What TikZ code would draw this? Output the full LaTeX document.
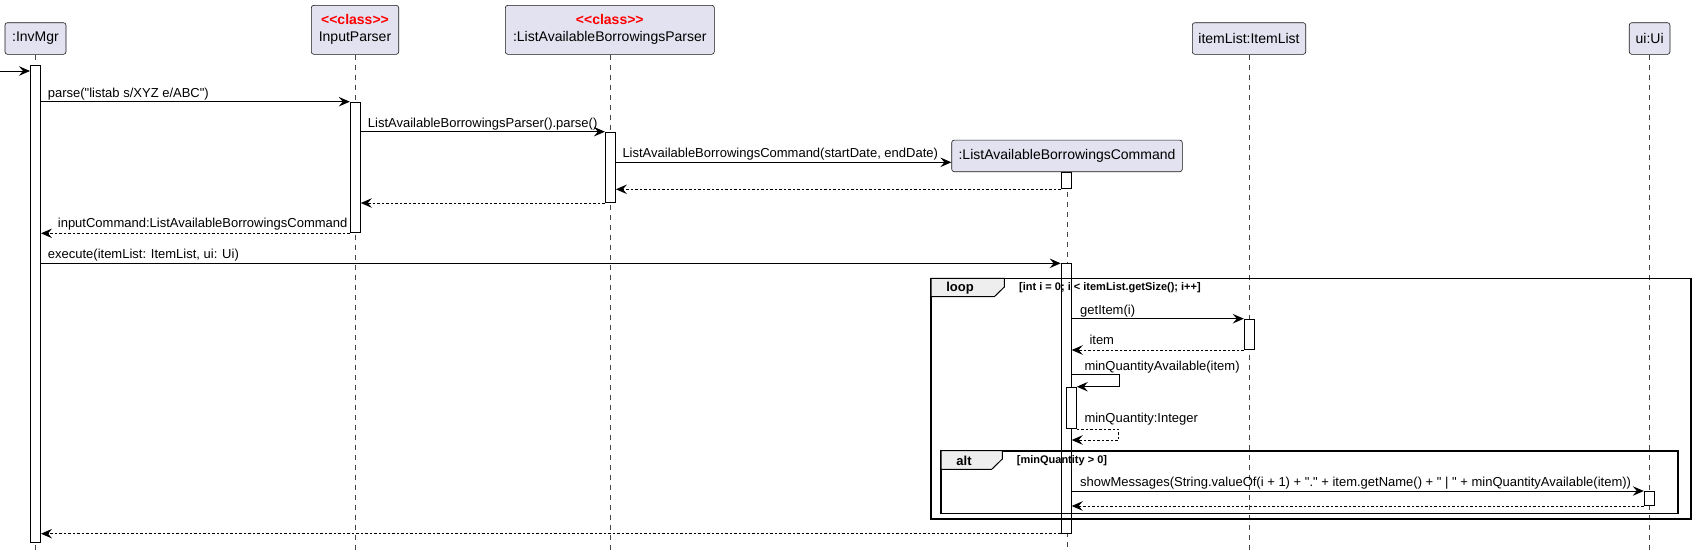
\documentclass[tikz,border=0pt]{standalone}
\usepackage{fontspec}
\setmainfont{Liberation Sans}[Ligatures=TeXOff]
\usetikzlibrary{arrows.meta}
\definecolor{partfill}{HTML}{E2E2F0}
\definecolor{partline}{HTML}{181818}
\definecolor{tabfill}{HTML}{EEEEEE}
\tikzset{
   part/.style={draw=partline, fill=partfill, rounded corners=2.5pt, line width=0.6pt, inner sep=0pt, align=center, font=\fontsize{14}{17}\selectfont},
   act/.style={draw, fill=white, line width=1pt, minimum width=10pt, inner sep=0pt, anchor=north},
   life/.style={draw=partline!80, line width=0.6pt, dash pattern=on 5pt off 5pt},
   msg/.style={-{Stealth[length=11pt,width=9.5pt,inset=4pt]}, line width=1pt},
   ret/.style={msg, dash pattern=on 2.5pt off 2pt},
   lbl/.style={anchor=base west, inner sep=0pt, font=\fontsize{13}{15}\selectfont},
   frm/.style={line width=1.6pt},
   tab/.style={draw, fill=tabfill, line width=1pt},
   tabtxt/.style={inner sep=0pt, font=\fontsize{13}{15}\selectfont\bfseries},
   guard/.style={anchor=west, inner sep=0pt, font=\fontsize{11}{13}\selectfont\bfseries},
}
\newcommand{\stereo}{{\bfseries\color{red}<\kern0pt<class>\kern0pt>}}
\begin{document}
\begin{tikzpicture}[x=1pt,y=-1pt]
   \useasboundingbox (0,0) rectangle (1695,557);

   \node[part, minimum width=61pt, minimum height=31.6pt] (invmgr) at (35.5,38.5) {:InvMgr};
   \node[part, minimum width=87.4pt, minimum height=49pt] (inparser) at (355,29.8) {\stereo\\InputParser};
   \node[part, minimum width=209pt, minimum height=49pt] (labparser) at (609.8,29.8) {\stereo\\:ListAvailableBorrowingsParser};
   \node[part, minimum width=230.6pt, minimum height=31.6pt] (labcmd) at (1067,155.9) {:ListAvailableBorrowingsCommand};
   \node[part, minimum width=113.4pt, minimum height=31.6pt] (itemlist) at (1249,38.5) {itemList:ItemList};
   \node[part, minimum width=40.7pt, minimum height=31.6pt] (ui) at (1649.6,38.5) {ui:Ui};

   % lifelines
   \foreach \p in {invmgr,inparser,labparser,labcmd,itemlist,ui}
      \draw[life] (\p.south) -- (\p.south |- 0,550);

   % activations
   \node[act, minimum height=477pt] (a0) at (35.5,65.3) {};
   \node[act, minimum height=130.6pt] (a1) at (355.3,101.7) {};
   \node[act, minimum height=70.3pt] (a2) at (610.4,131.7) {};
   \node[act, minimum height=16.6pt] (a3) at (1066.2,171.7) {};
   \node[act, minimum height=269.4pt] (a4) at (1066.2,263.3) {};
   \node[act, minimum height=30.3pt] (a5) at (1249.3,318.7) {};
   \node[act, minimum height=41.6pt] (a6) at (1071.3,386.7) {};
   \node[act, minimum height=14pt] (a7) at (1649.3,491) {};

   % messages
   \coordinate (entry) at (0,71);
   \draw[msg] (entry) -- (a0.west |- entry);

   \draw[msg] (a0.east |- a1.north) -- (a1.north west);
   \node[lbl] (m1) at (47.7,97.2) {parse("listab s/XYZ e/ABC")};

   \draw[msg] (a1.east |- a2.north) -- (a2.north west);
   \node[lbl] (m2) at (367.7,127.2) {ListAvailableBorrowingsParser().parse()};

   \coordinate (create) at (a2.east |- 0,162.3);
   \draw[msg] (create) -- (labcmd.west |- create);
   \node[lbl] (m3) at (622.3,157.8) {ListAvailableBorrowingsCommand(startDate, endDate)};

   \draw[ret] (a3.south west) -- (a2.east |- a3.south);
   \draw[ret] (a2.south west) -- (a1.east |- a2.south);

   \draw[ret] (a1.south west) -- (a0.east |- a1.south);
   \node[lbl] (m4) at (57.7,227.2) {inputCommand:ListAvailableBorrowingsCommand};

   \draw[msg] (a0.east |- a4.north) -- (a4.north west);
   \node[lbl] (m5) at (47.7,258.8) {execute(itemList: ItemList, ui: Ui)};

   \draw[msg] (a4.east |- a5.north) -- (a5.north west);
   \node[lbl] (m6) at (1080,314.2) {getItem(i)};

   \draw[ret] (a5.south west) -- (a4.east |- a5.south);
   \node[lbl] (m7) at (1089.3,344.5) {item};

   \draw[msg] (a4.east |- 0,374.7) -- ++(47.3,0) |- (a6.north east);
   \node[lbl] (m8) at (1084.3,370.3) {minQuantityAvailable(item)};

   \draw[ret] (a6.south east) -- ++(42,0) |- (a4.east |- 0,440);
   \node[lbl] (m9) at (1084.3,422.6) {minQuantity:Integer};

   \draw[msg] (a4.east |- a7.north) -- (a7.north west);
   \node[lbl] (m10) at (1080,486.3) {showMessages(String.valueOf(i + 1) + "." + item.getName() + " | " + minQuantityAvailable(item))};

   \draw[ret] (a7.south west) -- (a4.east |- a7.south);
   \draw[ret] (a4.south west) -- (a0.east |- a4.south);

   % loop frame
   \draw[frm] (931,278.3) rectangle (1690.7,519);
   \draw[tab] (931,278.3) -- (1004.3,278.3) -- (1004.3,287) -- (994.3,296.7) -- (931,296.7) -- cycle;
   \node[tabtxt] (looptxt) at (960,288) {loop};
   \node[guard] (loopguard) at (1019,288) {[int i = 0; i < itemList.getSize(); i++]};

   % alt frame
   \draw[frm] (941,450.7) rectangle (1678,513.3);
   \draw[tab] (941,450.7) -- (1002.3,450.7) -- (1002.3,459) -- (991.7,469.3) -- (941,469.3) -- cycle;
   \node[tabtxt] (alttxt) at (964,460.5) {alt};
   \node[guard] (altguard) at (1016.7,460.5) {[minQuantity > 0]};

\end{tikzpicture}
\end{document}
